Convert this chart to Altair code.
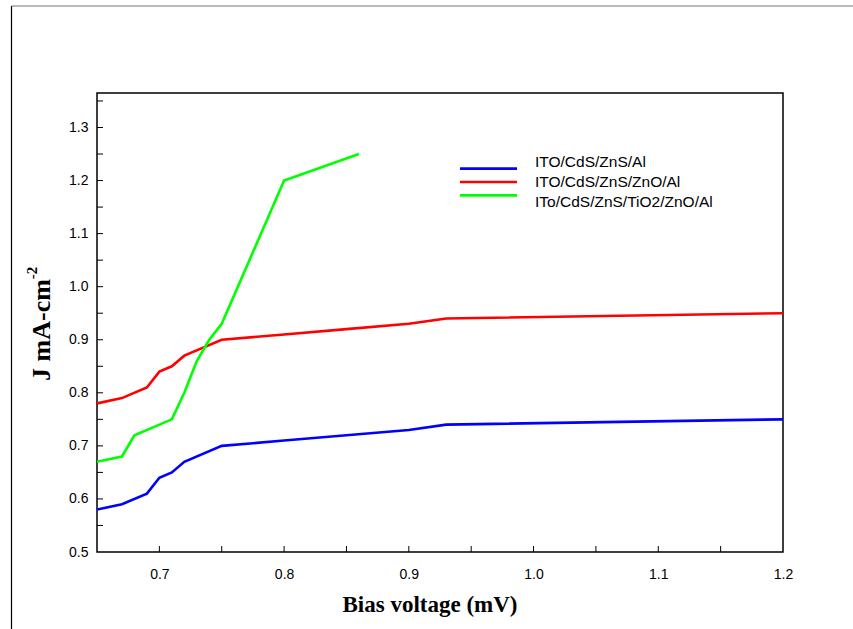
import altair as alt
import pandas as pd

series_names = ["ITO/CdS/ZnS/Al", "ITO/CdS/ZnS/ZnO/Al", "ITo/CdS/ZnS/TiO2/ZnO/Al"]
series_colors = ["#0000ff", "#ff0000", "#00ff00"]

blue_x = [0.65, 0.67, 0.69, 0.70, 0.71, 0.72, 0.75, 0.80, 0.85, 0.90, 0.93, 1.20]
blue_y = [0.58, 0.59, 0.61, 0.64, 0.65, 0.67, 0.70, 0.71, 0.72, 0.73, 0.74, 0.75]

red_x = [0.65, 0.67, 0.69, 0.70, 0.71, 0.72, 0.75, 0.80, 0.85, 0.90, 0.93, 1.20]
red_y = [0.78, 0.79, 0.81, 0.84, 0.85, 0.87, 0.90, 0.91, 0.92, 0.93, 0.94, 0.95]

green_x = [0.65, 0.67, 0.68, 0.71, 0.72, 0.73, 0.74, 0.75, 0.80, 0.86]
green_y = [0.67, 0.68, 0.72, 0.75, 0.80, 0.86, 0.90, 0.93, 1.20, 1.25]

x_tick_labels = [0.7, 0.8, 0.9, 1.0, 1.1, 1.2]
y_tick_labels = [0.5, 0.6, 0.7, 0.8, 0.9, 1.0, 1.1, 1.2, 1.3]
x_tick_marks = [0.7, 0.75, 0.8, 0.85, 0.9, 0.95, 1.0, 1.05, 1.1, 1.15]
y_tick_marks = [0.55, 0.6, 0.65, 0.7, 0.75, 0.8, 0.85, 0.9, 0.95, 1.0, 1.05,
                1.1, 1.15, 1.2, 1.25, 1.3, 1.35]

x_domain = [0.65, 1.2]
y_domain = [0.5, 1.365]

W, H = 686, 459

rows = []
for name, xv, yv in zip(series_names, [blue_x, red_x, green_x], [blue_y, red_y, green_y]):
    for i, (a, b) in enumerate(zip(xv, yv)):
        rows.append({"series": name, "V": a, "J": b, "i": i})
df = pd.DataFrame(rows)

color_scale = alt.Scale(domain=series_names, range=series_colors)
xs = alt.Scale(domain=x_domain, nice=False, zero=False)
ys = alt.Scale(domain=y_domain, nice=False, zero=False)

x_axis = alt.Axis(values=x_tick_labels, format=".1f", title=None, ticks=False,
                  domain=False, grid=False, labelFont="Liberation Sans",
                  labelFontSize=14, labelColor="black", labelPadding=15, labelFlush=False)
y_axis = alt.Axis(values=y_tick_labels, format=".1f", title=None, ticks=False,
                  domain=False, grid=False, labelFont="Liberation Sans",
                  labelFontSize=14, labelColor="black", labelPadding=9, labelFlush=False)

lines = alt.Chart(df).mark_line(strokeWidth=2.6, clip=True).encode(
    x=alt.X("V:Q", scale=xs, axis=x_axis),
    y=alt.Y("J:Q", scale=ys, axis=y_axis),
    color=alt.Color("series:N", scale=color_scale, legend=None),
    detail="series:N",
    order="i:Q",
)

xt = alt.Chart(pd.DataFrame({"V": x_tick_marks})).mark_rule(color="black", strokeWidth=1).encode(
    x=alt.X("V:Q", scale=xs, axis=x_axis),
    y=alt.value(H),
    y2=alt.value(H - 6),
)
yt = alt.Chart(pd.DataFrame({"J": y_tick_marks})).mark_rule(color="black", strokeWidth=1).encode(
    y=alt.Y("J:Q", scale=ys, axis=y_axis),
    x=alt.value(0),
    x2=alt.value(6),
)

frame_left = alt.Chart(pd.DataFrame({"a": [0]})).mark_rule(color="black", strokeWidth=1.2).encode(
    x=alt.value(-85.5), y=alt.value(-87), y2=alt.value(H + 80))
frame_top = alt.Chart(pd.DataFrame({"a": [0]})).mark_rule(color="#777777", strokeWidth=1.2).encode(
    x=alt.value(-85.5), x2=alt.value(W + 80), y=alt.value(-87))

x_title = alt.Chart(pd.DataFrame({"t": ["Bias voltage (mV)"]})).mark_text(
    font="Liberation Serif", fontWeight="bold", fontSize=23, align="center", baseline="middle",
    color="black").encode(text="t:N", x=alt.value(333), y=alt.value(512))
y_title = alt.Chart(pd.DataFrame({"t": ["J mA-cm"]})).mark_text(
    font="Liberation Serif", fontWeight="bold", fontSize=26, align="center", baseline="middle",
    angle=270, color="black").encode(text="t:N", x=alt.value(-55), y=alt.value(237))
y_sup = alt.Chart(pd.DataFrame({"t": ["-2"]})).mark_text(
    font="Liberation Serif", fontWeight="bold", fontSize=15, align="center", baseline="middle",
    angle=270, color="black").encode(text="t:N", x=alt.value(-65), y=alt.value(180))

main = alt.layer(lines, xt, yt, frame_left, frame_top, x_title, y_title, y_sup)

leg_df = pd.DataFrame({"series": series_names})
leg_y = alt.Y("series:N", sort=series_names, scale=alt.Scale(range=[69, 109], padding=0), axis=None)
leg_rule = alt.Chart(leg_df).mark_rule(strokeWidth=2.6).encode(
    x=alt.value(363), x2=alt.value(420), y=leg_y,
    color=alt.Color("series:N", scale=color_scale, legend=None))
leg_text = alt.Chart(leg_df).mark_text(
    align="left", baseline="middle", font="Liberation Sans", fontSize=15.5, color="black").encode(
    x=alt.value(438), y=leg_y, text="series:N")

chart = alt.layer(main, leg_rule, leg_text).resolve_scale(y="independent").properties(
    width=W, height=H,
    autosize=alt.AutoSizeParams(type="none"),
    padding={"left": 97, "top": 93, "right": 70, "bottom": 77},
    background="white",
).configure_view(stroke="black", strokeWidth=1.5)

chart.save("out.html", embed_options={"renderer": "svg", "actions": False})
